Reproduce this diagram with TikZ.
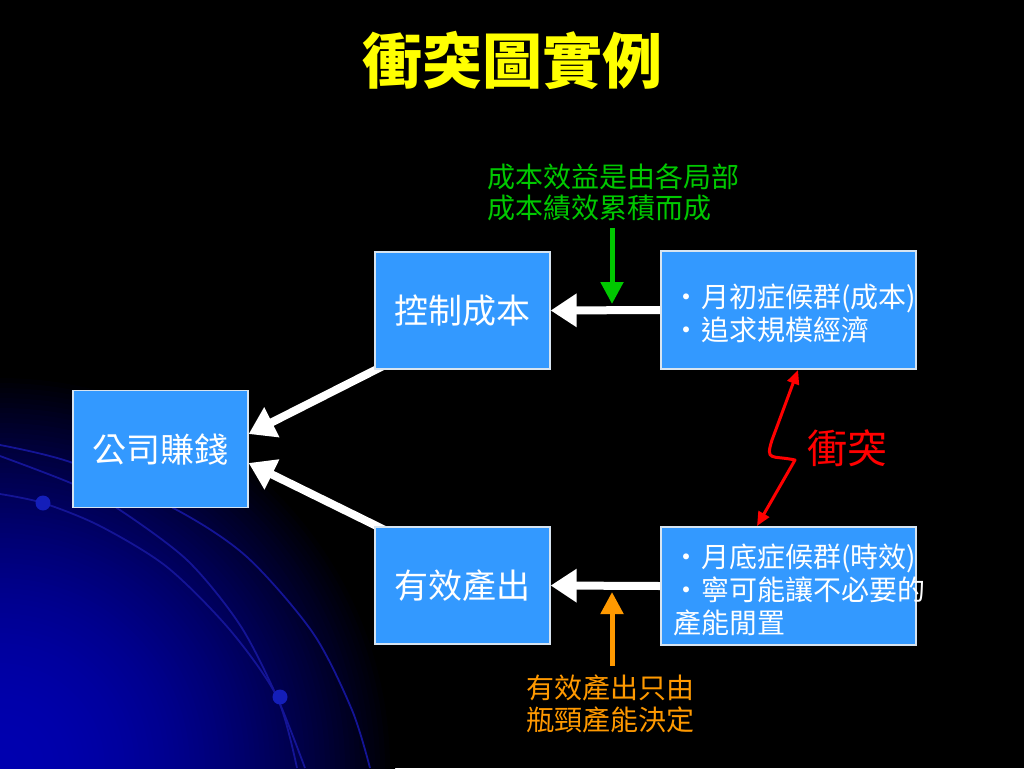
\documentclass[tikz,border=0pt]{standalone}
\usepackage{fontspec}
\setmainfont{Noto Sans CJK TC}
\usetikzlibrary{arrows.meta}
\definecolor{boxblue}{RGB}{51,153,255}
\definecolor{boxedge}{RGB}{215,228,240}
\definecolor{grn}{RGB}{0,200,0}
\definecolor{org}{RGB}{255,153,0}
\definecolor{redc}{RGB}{255,0,0}
\definecolor{ttl}{RGB}{255,255,0}
\definecolor{arcblue}{RGB}{20,20,150}
\definecolor{dotblue}{RGB}{20,30,185}
\definecolor{glowblue}{RGB}{0,0,175}
\pgfdeclarelayer{bg}
\pgfsetlayers{bg,main}
\newcommand\mybul{\makebox[28pt][l]{\hspace{-1pt}•}}
\tikzset{
  box/.style={draw=boxedge, line width=1.3pt, fill=boxblue, inner sep=0pt, text=white},
  boxsmall/.style={box, minimum width=175pt, minimum height=117pt, font=\fontsize{34}{40}\selectfont},
  boxwide/.style={box, minimum width=255pt, minimum height=118pt},
  btext/.style={text=white, anchor=west, align=left, inner sep=0pt, font=\fontsize{28}{33}\selectfont},
  warrow/.style={draw=white, line width=8pt, -{Triangle[length=26pt,width=32pt]}},
  carrow/.style={line width=5pt, -{Triangle[length=22pt,width=22pt]}},
  arc/.style={draw=arcblue, line width=1.8pt},
}
\begin{document}
\begin{tikzpicture}[x=1pt,y=-1pt]
\useasboundingbox (0,0) rectangle (1024,768);
% nodes
\node[boxsmall] (b1) at (462.5,310.5) {控制成本};
\node[boxsmall] (c) at (160.5,449) {公司賺錢};
\node[boxsmall] (b3) at (462.5,585.5) {有效產出};
\node[boxwide] (r1) at (788.5,310) {};
\node[boxwide] (r2) at (788.5,586) {};
\node[btext] (t1) at (673,313) {\mybul 月初症候群(成本)\\\mybul 追求規模經濟};
\node[btext] (t2) at (673,590) {\mybul 月底症候群(時效)\\\mybul 寧可能讓不必要的\\產能閒置};
\node[anchor=center, text=ttl, font=\fontsize{60}{66}\selectfont\bfseries] (title) at (512,60) {衝突圖實例};
\node[anchor=west, align=left, inner sep=0pt, text=grn, font=\fontsize{28}{31}\selectfont] (gtxt) at (487,192.5) {成本效益是由各局部\\成本績效累積而成};
\node[anchor=west, align=left, inner sep=0pt, text=org, font=\fontsize{28}{32}\selectfont] (otxt) at (526,704) {有效產出只由\\瓶頸產能決定};
\node[text=redc, inner sep=0pt, font=\fontsize{40}{44}\selectfont] (conf) at (847,448) {衝突};
% coordinates
\coordinate (gs) at (612,228);
\coordinate (ge) at (612,304);
\coordinate (os) at (612,666);
\coordinate (oe) at (612,592);
\coordinate (d1) at (395,360);
\coordinate (d3) at (395,535);
\coordinate (l1) at (798,370);
\coordinate (l2) at (772,440);
\coordinate (l3) at (795,460);
\coordinate (l4) at (757,526);
\begin{pgfonlayer}{bg}
\fill[black] (0,0) rectangle (1024,768);
\begin{scope}
\clip (0,0) rectangle (1024,768);
\foreach \r in {395,390,...,5} {
  \pgfmathsetmacro\p{100*(1-(\r/395)^2)}
  \fill[glowblue!\p!black] (0,768) circle (\r);
}
\end{scope}
\draw[arc] plot[smooth] coordinates {(0,445) (73,463) (177,510) (247,557) (313,633) (352,710) (370,768)};
\draw[arc] plot[smooth] coordinates {(0,456) (73,484) (117,508) (187,560) (240,625) (277,697) (305,768)};
\draw[arc] plot[smooth] coordinates {(0,494) (43,503) (100,526) (167,567) (230,630) (277,697) (297,768)};
\fill[dotblue] (43,503) circle (7.5);
\fill[dotblue] (280,697) circle (7.5);
\draw[warrow] (r1.west) -- (b1.east);
\draw[warrow] (r2.west) -- (b3.east);
\draw[warrow] (d1) -- ([yshift=15pt]c.east);
\draw[warrow] (d3) -- ([yshift=-14pt]c.east);
\end{pgfonlayer}
\draw[carrow, draw=grn, fill=grn] (gs) -- (ge);
\draw[carrow, draw=org, fill=org] (os) -- (oe);
\draw[redc, line width=3pt, line join=round, {Triangle[length=14pt,width=12pt]}-{Triangle[length=14pt,width=12pt]}]
  (l1) -- (l2) .. controls (765,462) and (772,455) .. (l3) -- (l4);
\end{tikzpicture}
\end{document}
